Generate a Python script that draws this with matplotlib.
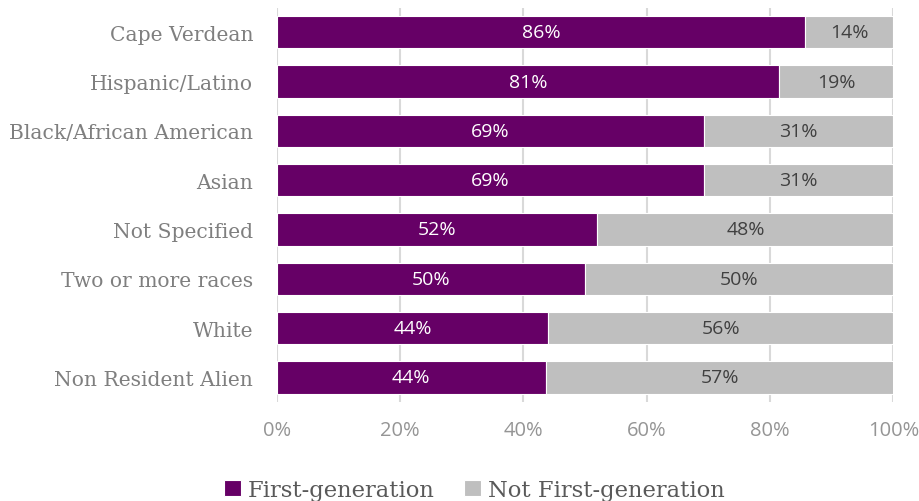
import matplotlib.pyplot as plt
import numpy as np

# data
groups = ["Cape Verdean", "Hispanic/Latino", "Black/African American", "Asian",
          "Not Specified", "Two or more races", "White", "Non Resident Alien"]
first_gen = [85.7, 81.4, 69.3, 69.3, 52.0, 50.0, 44.0, 43.6]
not_first = [14.3, 18.6, 30.7, 30.7, 48.0, 50.0, 56.0, 56.6]
ticks = [0, 20, 40, 60, 80, 100]

purple = "#660066"
grey = "#bfbfbf"

fig = plt.figure(figsize=(9.2, 5.02), dpi=100)
ax = fig.add_axes([0.301, 0.197, 0.67, 0.786])

y = np.arange(len(groups))
b1 = ax.barh(y, first_gen, height=0.66, color=purple, edgecolor="white", linewidth=0.8,
             label="First-generation", zorder=3)
b2 = ax.barh(y, not_first, left=first_gen, height=0.66, color=grey, edgecolor="white",
             linewidth=0.8, label="Not First-generation", zorder=3)

for i in range(len(groups)):
    ax.text(first_gen[i] / 2, y[i], "%d%%" % round(first_gen[i]), ha="center", va="center",
            color="white", fontsize=14, family="Open Sans", zorder=4)
    ax.text(first_gen[i] + not_first[i] / 2, y[i], "%d%%" % round(not_first[i]),
            ha="center", va="center", color="#404040", fontsize=14, family="Open Sans", zorder=4)

ax.set_xlim(0, 100)
ax.set_ylim(len(groups) - 0.5, -0.5)
ax.set_xticks(ticks)
ax.set_xticklabels(["%d%%" % t for t in ticks], family="Open Sans", fontsize=14.5, color="#959595")
ax.set_yticks(y)
ax.set_yticklabels(groups, family="DejaVu Serif", fontsize=14.6, color="#7f7f7f")
ax.tick_params(axis="both", length=0)
ax.tick_params(axis="y", pad=17)
ax.tick_params(axis="x", pad=13)
ax.grid(axis="x", color="#d9d9d9", linewidth=1.5, zorder=0)
for s in ax.spines.values():
    s.set_visible(False)

fig.legend(handles=[b1, b2], loc="lower center", bbox_to_anchor=(0.516, -0.04), ncol=2,
           frameon=False, handlelength=0.75, handleheight=0.75, handletextpad=0.3,
           columnspacing=1.3, prop={"family": "DejaVu Serif", "size": 16.3}, labelcolor="#595959")

fig.savefig("out.png", dpi=100)
